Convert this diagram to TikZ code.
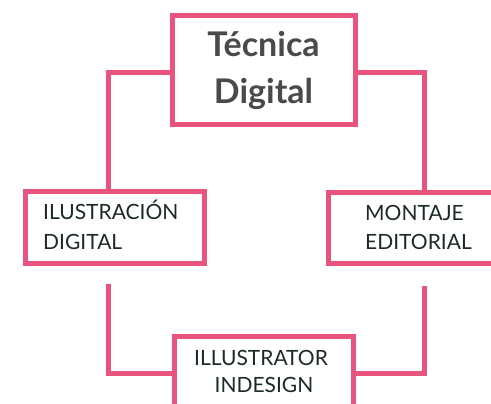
\documentclass[tikz,border=0pt]{standalone}
\usepackage{fontspec}
\setmainfont{Lato}
\definecolor{pinkline}{HTML}{E8547D}
\definecolor{titlegray}{HTML}{4A4A4A}
\definecolor{labeldark}{HTML}{1E2A2A}
\tikzset{
  box/.style={draw=pinkline, line width=5pt, fill=white, rectangle, inner sep=0pt},
  link/.style={draw=pinkline, line width=5pt},
  titletext/.style={font=\fontsize{34}{40}\selectfont\bfseries, text=titlegray, inner sep=0pt, anchor=base},
  labeltext/.style={font=\fontsize{21}{25}\selectfont, text=labeldark, inner sep=0pt, anchor=base},
}
\begin{document}
\begin{tikzpicture}[x=1pt,y=-1pt]
\useasboundingbox (0,0) rectangle (491,404);
\clip (0,0) rectangle (491,404);
% boxes
\node[box, minimum width=183pt, minimum height=109pt] (top) at (263.75,70) {};
\node[box, minimum width=179pt, minimum height=71pt] (left) at (25.5+89.5,227.5) {};
\node[box, minimum width=200pt, minimum height=70pt] (right) at (428.5,228) {};
\node[box, minimum width=178.5pt, minimum height=110pt] (bottom) at (263.75,391) {};
% connector corner points
\coordinate (lstub) at (108.5,284);
\coordinate (rstub) at (424.5,286);
\draw[link] (top.west |- 0,72.5) -| (left.north -| 108.5,0);
\draw[link] (top.east |- 0,72.5) -| (right.north -| 424.5,0);
\draw[link] (lstub) |- (bottom.west |- 0,373.5);
\draw[link] (rstub) |- (bottom.east |- 0,373.5);
% texts
\node[titletext] (t1) at (263.5,57) {Técnica};
\node[titletext] (t2) at (263.5,104) {Digital};
\node[labeltext, anchor=base west] (l1) at (43,220) {ILUSTRACIÓN};
\node[labeltext, anchor=base west] (l2) at (43,250) {DIGITAL};
\node[labeltext, anchor=base west] (r1) at (365,221) {MONTAJE};
\node[labeltext, anchor=base west] (r2) at (365,250) {EDITORIAL};
\node[labeltext] (b1) at (261,365) {ILLUSTRATOR};
\node[labeltext] (b2) at (264,392) {INDESIGN};
\end{tikzpicture}
\end{document}
